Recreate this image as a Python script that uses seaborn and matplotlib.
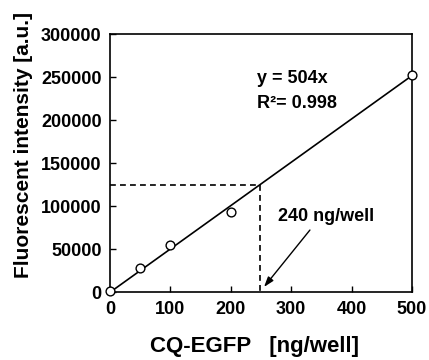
import seaborn as sns
import matplotlib.pyplot as plt
import pandas as pd

conc = [0, 50, 100, 200, 500]
fluor = [1000, 28000, 55000, 93500, 253000]

# Linear fit y = 504x
fit_x = [0, 500]
fit_y = [0, 252000]

# Read-off guide (dashed)
guide_x = [0, 248, 248]
guide_y = [125000, 125000, 0]

x_ticks = [0, 100, 200, 300, 400, 500]
y_ticks = [0, 50000, 100000, 150000, 200000, 250000, 300000]

df_pts = pd.DataFrame({"conc": conc, "fluor": fluor})
df_fit = pd.DataFrame({"conc": fit_x, "fluor": fit_y})

sns.set_style("ticks")
plt.rcParams["font.family"] = ["Liberation Sans", "DejaVu Sans"]
plt.rcParams["font.weight"] = "bold"
plt.rcParams["text.color"] = "black"
plt.rcParams["axes.labelcolor"] = "black"

fig = plt.figure(figsize=(4.29, 3.6), dpi=100)
ax = fig.add_axes([110 / 429, (360 - 292.3) / 360, 302 / 429, 258 / 360])

# Dashed guide lines
ax.plot(guide_x, guide_y, color="black", linestyle=(0, (3.5, 2.5)), linewidth=1.2)

# Fit line
sns.lineplot(data=df_fit, x="conc", y="fluor", color="black", linewidth=1.2, ax=ax)

# Data points
sns.scatterplot(
    data=df_pts, x="conc", y="fluor",
    marker="o", s=40, facecolor="white", edgecolor="black", linewidth=1.0,
    zorder=5, clip_on=False, ax=ax
)

ax.set_xlim(0, 500)
ax.set_ylim(0, 300000)
ax.set_xticks(x_ticks)
ax.set_yticks(y_ticks)
ax.set_xticklabels([str(t) for t in x_ticks], fontsize=13, fontweight="bold")
ax.set_yticklabels([str(t) for t in y_ticks], fontsize=13, fontweight="bold")
ax.tick_params(direction="in", length=4, width=1.0, pad=6,
               color="black", labelcolor="black")

ax.set_xlabel("CQ-EGFP   [ng/well]", fontsize=16, fontweight="bold")
ax.set_ylabel("Fluorescent intensity [a.u.]", fontsize=15, fontweight="bold")
ax.xaxis.set_label_coords(0.48, -0.168)
ax.yaxis.set_label_coords(-0.255, 0.569)

for spine in ["top", "bottom", "left", "right"]:
    ax.spines[spine].set_visible(True)
    ax.spines[spine].set_color("black")
    ax.spines[spine].set_linewidth(1.2)

# Equation text
ax.text(243, 249000, "y = 504x", fontsize=13, fontweight="bold", va="center")
ax.text(243, 220000, "R\u00b2= 0.998", fontsize=13, fontweight="bold", va="center")

# Annotation for the read-off value
ax.text(278, 87600, "240 ng/well", fontsize=13, fontweight="bold", va="center")
ax.annotate(
    "", xy=(255, 6200), xytext=(331, 72400),
    arrowprops=dict(arrowstyle="-|>,head_length=0.6,head_width=0.2",
                    color="black", lw=1.0, shrinkA=0, shrinkB=0)
)

fig.savefig("out.png", dpi=100)
